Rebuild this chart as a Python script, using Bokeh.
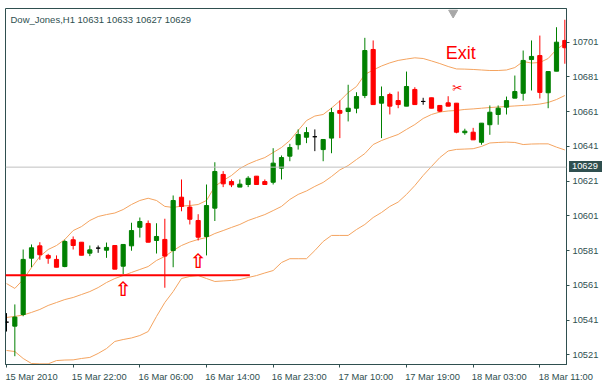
from bokeh.plotting import figure
from bokeh.layouts import column
from bokeh.models import (ColumnDataSource, FixedTicker, Range1d, Span, Label, Div,
                          BasicTickFormatter)
from bokeh.core.properties import value
from bokeh.embed import file_html
from bokeh.resources import INLINE

# ---------------- data ----------------
symbol = "Dow_Jones"
timeframe = "H1"
last_ohlc = [10631, 10633, 10627, 10629]
current_price = 10629

opens = [10539.8, 10537.5, 10544.2, 10576.6, 10583.7, 10578.2, 10575.9, 10571.8, 10587.2, 10585.8,
         10579.5, 10582.4, 10581.2, 10583.9, 10572.0, 10583.7, 10594.4, 10596.6, 10586.8, 10587.4,
         10581.0, 10611.7, 10606.0, 10598.3, 10589.1, 10605.4, 10624.8, 10620.7, 10617.5, 10619.0,
         10623.8, 10620.7, 10620.3, 10628.4, 10635.3, 10641.9, 10646.2, 10646.5, 10639.1, 10645.7,
         10661.6, 10661.0, 10662.9, 10670.2, 10696.7, 10665.8, 10670.8, 10667.3, 10664.1, 10673.7,
         10666.8, 10668.9, 10664.5, 10666.0, 10665.8, 10648.8, 10649.1, 10643.3, 10653.4, 10659.3,
         10663.5, 10668.7, 10671.5, 10690.9, 10693.2, 10671.8, 10684.2, 10701.9]
highs = [10545.0, 10550.0, 10581.6, 10584.5, 10585.8, 10579.1, 10578.2, 10587.2, 10589.1, 10585.8,
         10583.9, 10583.9, 10585.6, 10583.9, 10584.5, 10597.0, 10600.0, 10598.3, 10596.7, 10599.3,
         10612.7, 10621.9, 10609.8, 10601.9, 10619.0, 10631.8, 10626.7, 10621.9, 10621.9, 10623.8,
         10623.8, 10621.9, 10639.9, 10635.7, 10642.4, 10650.7, 10652.0, 10650.7, 10644.9, 10663.1,
         10667.3, 10676.4, 10672.1, 10703.4, 10701.9, 10675.4, 10671.8, 10672.5, 10684.0, 10675.0,
         10668.9, 10668.9, 10664.5, 10669.8, 10665.8, 10651.1, 10651.6, 10654.3, 10664.5, 10664.5,
         10669.6, 10681.7, 10696.1, 10701.9, 10704.7, 10684.0, 10709.5, 10713.8]
lows = [10534.4, 10520.2, 10543.2, 10571.4, 10575.7, 10573.4, 10571.4, 10571.4, 10581.6, 10578.3,
        10577.8, 10579.7, 10576.8, 10570.3, 10567.4, 10580.9, 10588.5, 10585.8, 10579.3, 10559.6,
        10571.4, 10603.6, 10596.0, 10586.8, 10578.2, 10598.0, 10617.5, 10617.5, 10617.5, 10617.5,
        10619.0, 10619.0, 10619.0, 10621.9, 10632.4, 10639.1, 10642.8, 10638.2, 10632.4, 10637.0,
        10645.7, 10655.3, 10660.0, 10668.7, 10665.0, 10645.7, 10659.3, 10662.9, 10664.1, 10665.0,
        10664.9, 10662.9, 10660.6, 10664.0, 10648.5, 10647.6, 10644.7, 10641.9, 10647.6, 10653.4,
        10659.3, 10668.7, 10667.3, 10673.1, 10668.5, 10662.9, 10684.2, 10688.5]
closes = [10539.8, 10542.7, 10575.9, 10582.6, 10578.6, 10576.6, 10571.4, 10586.2, 10583.9, 10578.3,
          10581.4, 10582.4, 10582.8, 10570.3, 10584.5, 10592.5, 10597.7, 10585.8, 10589.1, 10577.8,
          10609.8, 10606.4, 10599.0, 10588.7, 10606.9, 10626.5, 10619.4, 10618.8, 10619.2, 10622.6,
          10619.0, 10619.0, 10631.3, 10634.5, 10640.3, 10647.8, 10648.9, 10646.5, 10644.9, 10660.4,
          10660.0, 10662.9, 10669.6, 10696.1, 10665.0, 10669.6, 10664.1, 10665.0, 10675.4, 10665.0,
          10666.8, 10662.9, 10661.2, 10664.1, 10649.1, 10649.7, 10644.7, 10654.3, 10660.6, 10662.9,
          10667.3, 10672.5, 10690.4, 10692.7, 10672.0, 10684.0, 10700.9, 10697.7]

bb_upper = [10562.0, 10559.2, 10564.3, 10571.2, 10577.6, 10581.6, 10583.9, 10587.4, 10592.5, 10594.8,
            10598.3, 10600.6, 10601.7, 10602.6, 10604.6, 10607.5, 10609.8, 10611.1, 10609.8, 10606.4,
            10605.8, 10606.6, 10606.9, 10607.5, 10609.8, 10617.9, 10621.3, 10624.2, 10628.2, 10630.8,
            10632.8, 10634.5, 10637.4, 10640.3, 10644.3, 10650.1, 10655.8, 10658.4, 10659.3, 10663.0,
            10667.1, 10671.9, 10675.4, 10682.3, 10684.9, 10687.2, 10689.0, 10690.4, 10691.2, 10691.9,
            10691.5, 10690.1, 10688.6, 10686.9, 10685.5, 10685.4, 10685.2, 10684.9, 10684.6, 10684.6,
            10684.9, 10686.3, 10689.8, 10688.9, 10689.2, 10691.5, 10696.7, 10700.1]
bb_middle = [10542.5, 10543.1, 10543.9, 10545.4, 10547.1, 10549.4, 10551.1, 10552.8, 10554.0, 10555.7,
             10557.4, 10559.7, 10562.6, 10564.9, 10566.6, 10568.4, 10570.1, 10571.8, 10575.3, 10577.6,
             10581.0, 10583.9, 10585.9, 10587.4, 10588.5, 10590.8, 10592.5, 10594.3, 10596.0, 10598.3,
             10600.0, 10601.7, 10604.0, 10606.4, 10610.4, 10613.3, 10615.3, 10617.9, 10620.2, 10623.6,
             10627.4, 10629.9, 10633.4, 10636.8, 10642.0, 10644.3, 10646.1, 10647.8, 10650.7, 10653.5,
             10657.0, 10659.3, 10660.7, 10661.3, 10661.6, 10662.2, 10662.5, 10662.9, 10663.3, 10663.6,
             10663.9, 10664.2, 10664.5, 10664.8, 10665.3, 10666.2, 10667.9, 10670.2]
bb_lower = [10523.5, 10522.9, 10518.9, 10516.0, 10515.8, 10515.8, 10517.7, 10518.0, 10518.1, 10518.9,
            10519.5, 10521.8, 10524.6, 10528.7, 10529.8, 10530.7, 10532.1, 10534.4, 10543.1, 10551.1,
            10557.4, 10564.9, 10566.1, 10566.6, 10564.9, 10563.2, 10563.5, 10563.8, 10564.3, 10565.5,
            10566.6, 10568.1, 10569.5, 10574.1, 10576.3, 10576.3, 10576.3, 10581.0, 10586.2, 10589.7,
            10589.7, 10589.7, 10593.1, 10596.0, 10600.0, 10602.9, 10606.4, 10608.9, 10613.3, 10618.4,
            10624.2, 10629.4, 10634.5, 10638.3, 10639.2, 10639.4, 10639.6, 10640.9, 10642.9, 10643.2,
            10643.4, 10643.2, 10642.0, 10642.3, 10642.4, 10642.4, 10640.5, 10638.9]

date_tick_bars = [0, 8, 16, 24, 32, 40, 48, 56, 64]
date_tick_labels = ["15 Mar 2010", "15 Mar 22:00", "16 Mar 06:00", "16 Mar 14:00", "16 Mar 23:00",
                    "17 Mar 10:00", "17 Mar 19:00", "18 Mar 03:00", "18 Mar 11:00"]
price_ticks = [10521, 10541, 10561, 10581, 10601, 10621, 10641, 10661, 10681, 10701]

support_level = 10566.8
support_bars = [-0.12, 29.2]
buy_arrow_bars = [14.0, 23.0]
buy_arrow_prices = [10558.9, 10575.0]
exit_label = "Exit"
exit_bar = 54.5
exit_price = 10694.7
close_mark_bar = 54.1
close_mark_price = 10674.5
shift_mark_bar = 53.6
shift_mark_price = 10717.8

# ---------------- styling ----------------
FG = "#2f4f4f"
BULL = "#008000"
BEAR = "#ff0000"
DOJI = "#000000"
BAND = "#f4a460"
FONT = "Liberation Sans"
FS = "9.3px"

W, H = 606, 391
B_LEFT, B_RIGHT, B_TOP, B_BOTTOM = 5, 40, 8, 27
FRAME_H = H - B_TOP - B_BOTTOM
Y0, Y1 = 10515.43, 10720.28

xs = list(range(len(opens)))
colors = [BULL if c > o else (BEAR if c < o else DOJI) for o, c in zip(opens, closes)]
src = ColumnDataSource(dict(
    x=xs, high=highs, low=lows,
    top=[max(o, c) for o, c in zip(opens, closes)],
    bot=[min(o, c) for o, c in zip(opens, closes)],
    color=colors,
))

p = figure(width=W, height=H, x_range=Range1d(-0.12, 67.2), y_range=Range1d(Y0, Y1),
           output_backend="svg", toolbar_location=None, y_axis_location="right",
           min_border_left=B_LEFT, min_border_right=B_RIGHT, min_border_top=B_TOP,
           min_border_bottom=B_BOTTOM)
p.grid.visible = False
p.outline_line_color = FG
p.outline_line_width = 1
p.background_fill_color = "white"
p.border_fill_color = "white"

# bottom axis: tick marks at the bars (minor ticks), labels left-aligned after each tick
label_shift = [3.0] + [3.125] * (len(date_tick_bars) - 1)
label_pos = [b + s for b, s in zip(date_tick_bars, label_shift)]
xa = p.xaxis[0]
xa.ticker = FixedTicker(ticks=label_pos, minor_ticks=date_tick_bars)
xa.major_label_overrides = {pos: lab for pos, lab in zip(label_pos, date_tick_labels)}
xa.major_tick_out = 0
xa.major_tick_in = 0
xa.minor_tick_out = 3
xa.minor_tick_in = 0
xa.minor_tick_line_color = FG
xa.axis_line_color = FG
xa.major_label_standoff = 4
xa.major_label_text_font = FONT
xa.major_label_text_font_size = FS
xa.major_label_text_color = FG

# right price axis
ya = p.yaxis[0]
ya.ticker = FixedTicker(ticks=price_ticks)
ya.formatter = BasicTickFormatter(use_scientific=False)
ya.major_tick_out = 3
ya.major_tick_in = 0
ya.minor_tick_out = 0
ya.minor_tick_in = 0
ya.axis_line_color = FG
ya.major_tick_line_color = FG
ya.major_label_standoff = 3
ya.major_label_text_font = FONT
ya.major_label_text_font_size = FS
ya.major_label_text_color = FG

# current price line
p.add_layout(Span(location=current_price, dimension="width", line_color="#c0c0c0", line_width=1))

# Bollinger bands
p.line(xs, bb_upper, line_color=BAND, line_width=1)
p.line(xs, bb_middle, line_color=BAND, line_width=1)
p.line(xs, bb_lower, line_color=BAND, line_width=1)

# candles
p.segment(x0="x", y0="low", x1="x", y1="high", line_color="color", line_width=1, source=src)
p.vbar(x="x", width=0.5, top="top", bottom="bot", fill_color="color", line_color="color",
       line_width=1, source=src)

# support line
p.line(support_bars, [support_level, support_level], line_color=BEAR, line_width=2)

# arrows and marks
p.text(x=buy_arrow_bars, y=buy_arrow_prices, text=["\u21e7"] * len(buy_arrow_bars),
       text_align="center", text_baseline="middle", text_color=BEAR,
       text_font=value("DejaVu Sans"), text_font_size="20px", text_font_style="bold")
p.text(x=[exit_bar], y=[exit_price], text=[exit_label], text_align="center",
       text_baseline="middle", text_color=BEAR, text_font=value(FONT), text_font_size="18px")
p.text(x=[close_mark_bar], y=[close_mark_price], text=["\u2702"], text_align="center",
       text_baseline="middle", text_color=BEAR, text_font=value("DejaVu Sans"),
       text_font_size="12px", text_font_style="bold")
p.scatter(x=[shift_mark_bar], y=[shift_mark_price], marker="inverted_triangle", size=9,
          fill_color="#a8a8a8", line_color="#a8a8a8")

# header
header = f"{symbol},{timeframe}  " + " ".join(str(v) for v in last_ohlc)
p.add_layout(Label(x=5, y=FRAME_H - 11.3, x_units="screen", y_units="screen",
                   text=header, text_font=FONT, text_font_size="9.5px", text_color=FG,
                   text_baseline="alphabetic"))

# current price tag on the price scale (placed from the same y scale as the frame)
px_per_unit = FRAME_H / (Y1 - Y0)
tag_center = B_TOP + (Y1 - current_price) * px_per_unit
tag = Div(text=str(current_price), width=33, height=11,
          styles={"position": "absolute", "left": f"{W - B_RIGHT + 3}px",
                  "top": f"{tag_center - 5.5:.1f}px", "background-color": FG,
                  "color": "white", "font-family": FONT, "font-size": FS,
                  "line-height": "11px", "padding-left": "3px", "box-sizing": "border-box",
                  "overflow": "hidden", "margin": "0"})

layout = column(p, tag, spacing=0)
open("out.html", "w").write(file_html(layout, INLINE))
